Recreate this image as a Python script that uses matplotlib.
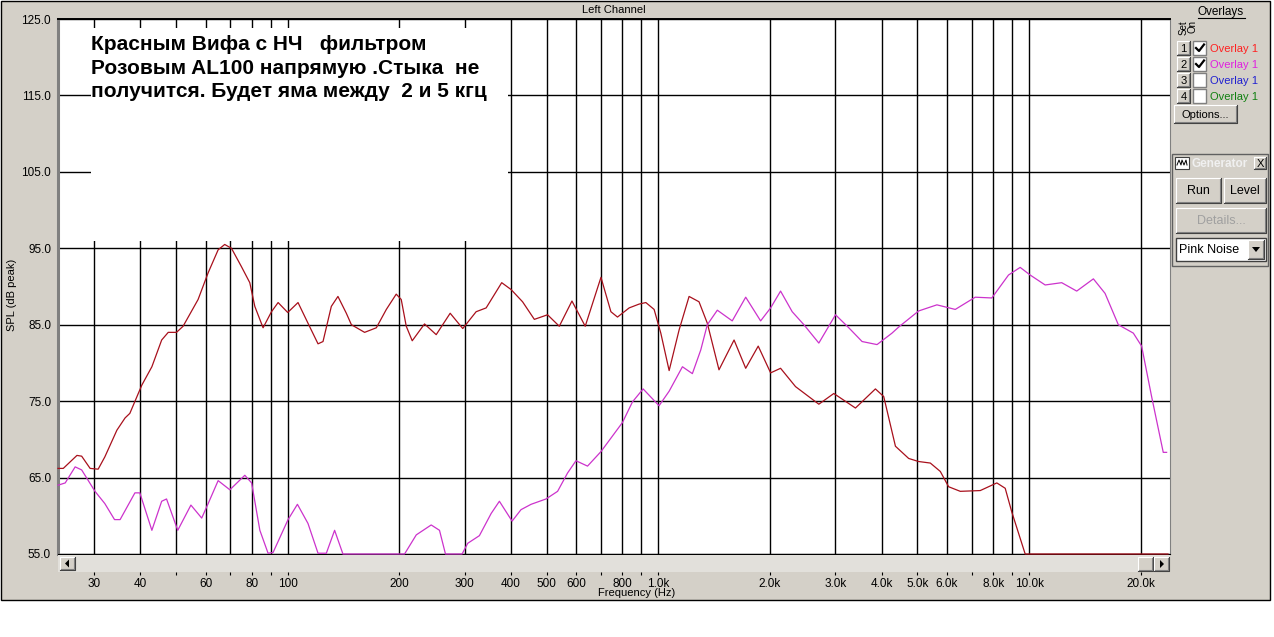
import matplotlib
matplotlib.use("Agg")
import matplotlib.pyplot as plt
import numpy as np
from matplotlib.patches import Rectangle, Polygon
from matplotlib.lines import Line2D
from matplotlib.ticker import NullLocator

plt.rcParams['font.family'] = ['Liberation Sans', 'DejaVu Sans']

# --- values ---
# red: Вифа with low-pass filter
red_freq = [24, 24.8, 27.0, 27.8, 29.3, 30.8, 32.1, 34.6, 36.4, 37.5, 40.4, 43.0, 45.7, 47.6,
            50.1, 52.2, 57.3, 61.0, 64.9, 67.6, 70.5, 75.0, 79.0, 81.5, 85.8, 90.4, 94.2, 100,
            106.6, 113.4, 120.7, 124.5, 131.1, 136.6, 143.9, 148.5, 161.2, 173.4, 184.5, 196.2,
            202.4, 208.8, 216.7, 233.9, 251.5, 274.3, 296.6, 322.3, 343.0, 377.8, 400.5, 430.1,
            462.7, 502.3, 540.3, 584.5, 634.7, 699.9, 744.5, 775.6, 833.9, 887.2, 924.9, 973.7,
            1015, 1069, 1137, 1210, 1287, 1355, 1457, 1600, 1720, 1859, 2008, 2136, 2344, 2709,
            2973, 3401, 3850, 4054, 4360, 4734, 5036, 5415, 5762, 6067, 6522, 7384, 8185, 8622,
            8982, 9761, 23700]
red_db = [66.2, 66.2, 67.9, 67.8, 66.2, 66.1, 67.7, 71.2, 72.8, 73.4, 77.1, 79.5, 83.0, 84.0,
          84.0, 84.8, 88.3, 91.8, 94.8, 95.5, 95.0, 92.6, 90.5, 87.4, 84.6, 86.7, 87.9, 86.6,
          87.9, 85.2, 82.5, 82.8, 87.4, 88.7, 86.5, 85.0, 84.0, 84.6, 87.0, 89.0,
          88.3, 84.8, 82.9, 85.1, 83.7, 86.5, 84.5, 86.7, 87.2, 90.5, 89.6, 88.0,
          85.7, 86.3, 84.8, 88.1, 84.8, 91.2, 86.7, 86.0, 87.2, 87.7, 87.9, 87.0,
          83.9, 79.0, 84.3, 88.7, 88.0, 85.2, 79.1, 83.0, 79.3, 82.2, 78.7, 79.3, 76.9, 74.6,
          76.0, 74.1, 76.6, 75.6, 69.1, 67.5, 67.1, 66.9, 65.8, 63.8, 63.2, 63.3, 64.3, 63.6,
          60.5, 55.0, 55.0]

# magenta: AL100 direct
pink_freq = [24, 25.1, 26.7, 27.8, 30.2, 32.1, 34.1, 35.3, 38.7, 39.9, 43.0, 45.7, 47.1, 50.5,
             54.8, 58.6, 61.0, 64.9, 69.8, 76.6, 79.9, 84.1, 88.5, 91.3, 100.2, 106.2, 113.4,
             120.7, 127.1, 133.8, 140.9, 206.6, 222.2, 243.8, 256.7, 266.4, 295.4, 305.9, 328.9,
             353.8, 372.4, 403.0, 425.9, 453.3, 497.5, 534.6, 568.8, 599.2, 643.9, 699.9, 799.8,
             851.1, 909.5, 1004, 1069, 1161, 1235, 1301, 1355, 1442, 1582, 1720, 1887, 2008,
             2136, 2296, 2469, 2709, 3005, 3263, 3544, 3889, 4268, 4450, 5036, 5641, 6322, 7158,
             7935, 8800, 9462, 10069, 11051, 12247, 13445, 14911, 16032, 17410, 19111, 20120,
             21409, 23014, 23500]
pink_db = [64.0, 64.3, 66.4, 66.0, 63.2, 61.6, 59.5, 59.5, 63.0, 63.0, 58.1, 61.9, 62.2, 58.1,
           61.4, 59.7, 61.6, 64.6, 63.4, 65.3, 64.3, 58.1, 55.1, 55.2, 59.5, 61.5, 59.0,
           55.1, 55.1, 58.1, 55.0, 55.0, 57.5, 58.8, 58.1, 55.0, 55.0, 56.4, 57.4,
           60.3, 61.9, 59.3, 60.8, 61.5, 62.2, 63.2, 65.6, 67.2, 66.5, 68.4, 72.2,
           74.9, 76.6, 74.4, 76.3, 79.5, 78.6, 81.7, 85.0, 86.9, 85.5, 88.6, 85.5, 87.2,
           89.4, 86.7, 85.0, 82.6, 86.3, 84.6, 82.8, 82.4, 83.9, 84.7, 86.8, 87.6, 87.0, 88.6,
           88.5, 91.5, 92.5, 91.5, 90.2, 90.5, 89.4, 91.0, 89.1, 85.0, 83.9, 82.2,
           75.6, 68.3, 68.3]

grid_freqs = [30, 40, 50, 60, 70, 80, 90, 100, 200, 300, 400, 500, 600, 700, 800, 900,
              1000, 2000, 3000, 4000, 5000, 6000, 7000, 8000, 9000, 10000, 20000]
grid_labels = ['30', '40', '', '60', '', '80', '', '100', '200', '300', '400', '500', '600', '',
               '800', '', '1.0k', '2.0k', '3.0k', '4.0k', '5.0k', '6.0k', '', '8.0k', '',
               '10.0k', '20.0k']
db_ticks = [55, 65, 75, 85, 95, 105, 115, 125]

note_lines = ['Красным Вифа с НЧ   фильтром',
              'Розовым AL100 напрямую .Стыка  не',
              'получится. Будет яма между  2 и 5 кгц']

overlay_names = ['Overlay 1', 'Overlay 1', 'Overlay 1', 'Overlay 1']
overlay_colors = ['#FF2020', '#E020E0', '#2020D0', '#108010']
overlay_on = [True, True, False, False]

W, H = 1274, 637
GRAY = '#D4D0C8'
RED = '#A8101C'
PINK = '#CC33CC'

fig = plt.figure(figsize=(W / 100, H / 100), dpi=100)
fig.patch.set_facecolor('white')


def px_rect(x0, y0, x1, y1, **kw):
    r = Rectangle((x0 / W, 1 - y1 / H), (x1 - x0) / W, (y1 - y0) / H,
                  transform=fig.transFigure, **kw)
    fig.add_artist(r)
    return r


def px_line(xs, ys, **kw):
    fig.add_artist(Line2D([x / W for x in xs], [1 - y / H for y in ys],
                          transform=fig.transFigure, **kw))


def px_text(x, y, s, **kw):
    return fig.text(x / W, 1 - y / H, s, **kw)


def button(x0, y0, x1, y1, label='', color='black', size=8):
    px_rect(x0, y0, x1, y1, facecolor=GRAY, edgecolor='none', zorder=2)
    px_line([x0, x0, x1], [y1, y0, y0], color='white', lw=0.8, zorder=2)
    px_line([x0, x1, x1], [y1, y1, y0], color='#404040', lw=0.8, zorder=2)
    px_line([x0 + 1, x1 - 1, x1 - 1], [y1 - 1, y1 - 1, y0 + 1], color='#808080', lw=0.8, zorder=2)
    if label:
        px_text((x0 + x1) / 2, (y0 + y1) / 2 + 0.5, label, fontsize=size, color=color,
                ha='center', va='center', zorder=3)


def triangle(pts, color='black'):
    fig.add_artist(Polygon([(x / W, 1 - y / H) for x, y in pts], closed=True,
                           transform=fig.transFigure, facecolor=color, edgecolor='none', zorder=3))


# window background
px_rect(0.5, 0.5, 1269.5, 600, facecolor=GRAY, edgecolor='black', lw=1, zorder=-5)

# main plot area
L, R, T, B = 58, 1170, 19, 554
ax = fig.add_axes([L / W, 1 - B / H, (R - L) / W, (B - T) / H])
ax.set_xscale('log')
ax.set_xlim(24, 24000)
ax.set_ylim(55, 125)
ax.set_xticks(grid_freqs)
ax.xaxis.set_minor_locator(NullLocator())
ax.tick_params(axis='x', length=0, labelbottom=False)
ax.set_yticks(db_ticks)
ax.set_yticklabels([f'{v:.1f}' for v in db_ticks])
ax.tick_params(axis='y', length=0, pad=5, labelsize=8.5)
ax.set_axisbelow(True)
ax.grid(True, color='black', lw=1.0)
ax.spines['left'].set_color('#808080')
ax.spines['left'].set_linewidth(2.2)
ax.spines['top'].set_linewidth(1.4)
ax.spines['right'].set_color('#808080')

# white note box over the grid
bx0, by0, bx1, by1 = 91, 28, 508, 241
ax.add_patch(Rectangle(((bx0 - L) / (R - L), (B - by1) / (B - T)),
                       (bx1 - bx0) / (R - L), (by1 - by0) / (B - T),
                       transform=ax.transAxes, facecolor='white', edgecolor='none', zorder=1))

ax.plot(red_freq, red_db, color=RED, lw=0.9, zorder=3, clip_on=False)
ax.plot(pink_freq, pink_db, color=PINK, lw=0.9, zorder=3, clip_on=False)

for i, line in enumerate(note_lines):
    px_text(91, 50 + 23.5 * i, line, fontsize=15, fontweight='bold', ha='left',
            va='baseline', zorder=4)

# scrollbar with the frequency ticks under it
sax = fig.add_axes([L / W, 1 - 572 / H, (R - L) / W, 17 / H])
sax.set_facecolor('#E2E0DB')
sax.set_xscale('log')
sax.set_xlim(24, 24000)
sax.set_yticks([])
sax.set_xticks(grid_freqs)
sax.set_xticklabels(grid_labels)
sax.xaxis.set_minor_locator(NullLocator())
sax.tick_params(axis='x', length=2.5, width=0.8, pad=1.5, labelsize=8.5)
for s in sax.spines.values():
    s.set_visible(False)

button(60, 557, 75, 570)
triangle([(69, 559.5), (69, 567.5), (65, 563.5)])
button(1138, 557, 1153, 571)
button(1154, 557, 1169, 571)
triangle([(1160, 560), (1160, 568), (1164, 564)])

px_text(637, 593, 'Frequency (Hz)', fontsize=8, ha='center', va='center')
px_text(12, 295, 'SPL (dB peak)', fontsize=8, rotation=90, ha='center', va='center')
px_text(614, 10, 'Left Channel', fontsize=8, ha='center', va='center')

# overlays panel
px_text(1221, 12, 'Overlays', fontsize=8.5, ha='center', va='center')
px_line([1198, 1245], [18, 18], color='black', lw=0.8)
px_text(1183.5, 20, 'Set', fontsize=7, rotation=90, ha='center', va='top')
px_text(1192, 20, 'On', fontsize=7, rotation=90, ha='center', va='top')
for i, (name, col, on) in enumerate(zip(overlay_names, overlay_colors, overlay_on)):
    yc = 48 + 16 * i
    button(1177, yc - 7, 1190, yc + 7, str(i + 1))
    px_rect(1193, yc - 6.5, 1206, yc + 6.5, facecolor='white', edgecolor='#808080', lw=1, zorder=2)
    if on:
        px_line([1196, 1199, 1204], [yc, yc + 3, yc - 3.5], color='black', lw=1.6, zorder=3)
    px_text(1210, yc + 0.5, name, fontsize=8, color=col, ha='left', va='center')
button(1174, 105, 1237, 123, 'Options...')

# generator panel
px_rect(1172, 154, 1268, 266, facecolor=GRAY, edgecolor='#606060', lw=1, zorder=1)
gax = fig.add_axes([1173 / W, 1 - 171 / H, 94 / W, 16 / H])
gax.imshow(np.linspace(0, 1, 64)[None, :], cmap='Greys_r', vmin=-1.4, vmax=1.6,
           aspect='auto', extent=(0, 1, 0, 1))
gax.set_axis_off()
px_rect(1175, 157, 1189, 169, facecolor='white', edgecolor='#404040', lw=0.8, zorder=3)
px_line([1177, 1179, 1181, 1182, 1184, 1186, 1187], [165, 160, 165, 160, 165, 160, 165],
        color='black', lw=0.7, zorder=4)
px_text(1192, 163.5, 'Generator', fontsize=8.5, fontweight='bold', color='#F0F0F0',
        ha='left', va='center', zorder=4)
button(1254, 157, 1266, 169, 'X', size=8)
button(1176, 178, 1221, 203, 'Run', size=9)
button(1224, 178, 1266, 203, 'Level', size=9)
button(1176, 208, 1266, 233, 'Details...', color='#A0A0A0', size=9)
px_rect(1176, 238, 1266, 261, facecolor='white', edgecolor='#404040', lw=1, zorder=2)
px_text(1179, 250, 'Pink Noise', fontsize=9, ha='left', va='center', zorder=3)
button(1248, 240, 1264, 259)
triangle([(1252, 247), (1260, 247), (1256, 252)])

fig.savefig('out.png', dpi=100)
